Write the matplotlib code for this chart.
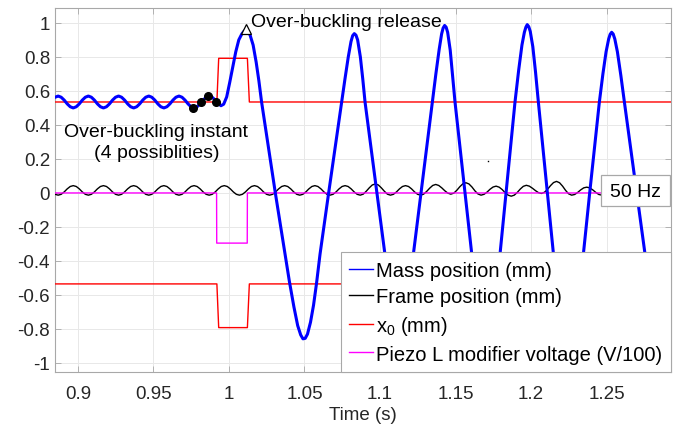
import numpy as np
import matplotlib
matplotlib.use('Agg')
import matplotlib.pyplot as plt
from matplotlib.lines import Line2D
from matplotlib.patches import Rectangle

plt.rcParams['font.family'] = ['Liberation Sans', 'DejaVu Sans']
plt.rcParams['mathtext.default'] = 'regular'
plt.rcParams['axes.unicode_minus'] = False

# ---------------- data ----------------
# uniform sampling grid used for the frame signal and the first part of the mass signal
t_start = 0.8849
t_step = 0.002

frame_pos = [
    -0.008, -0.013, -0.008, 0.006, 0.024, 0.038,
    0.043, 0.038, 0.024, 0.006, -0.008, -0.013, -0.008, 0.006, 0.024, 0.038,
    0.043, 0.038, 0.024, 0.006, -0.008, -0.013, -0.008, 0.006, 0.024, 0.038,
    0.043, 0.038, 0.024, 0.006, -0.008, -0.013, -0.008, 0.006, 0.024, 0.038,
    0.043, 0.038, 0.024, 0.006, -0.008, -0.013, -0.008, 0.006, 0.024, 0.038,
    0.043, 0.038, 0.024, 0.006, -0.008, -0.013, -0.008, 0.006, 0.024, 0.038,
    0.043, 0.038, 0.024, 0.006, -0.008, -0.013, -0.008, 0.006, 0.024, 0.038,
    0.043, 0.038, 0.024, 0.006, -0.008, -0.013, -0.008, 0.006, 0.024, 0.038,
    0.043, 0.038, 0.024, 0.006, -0.008, -0.013, -0.008, 0.006, 0.024, 0.038,
    0.043, 0.038, 0.024, 0.006, -0.008, -0.013, -0.008, 0.006, 0.024, 0.038,
    0.043, 0.038, 0.024, 0.006, -0.008, -0.013, -0.007, 0.010, 0.030, 0.047,
    0.053, 0.047, 0.030, 0.010, -0.007, -0.013, -0.008, 0.006, 0.024, 0.038,
    0.043, 0.038, 0.024, 0.006, -0.008, -0.013, -0.007, 0.009, 0.028, 0.044,
    0.050, 0.044, 0.030, 0.013, -0.001, -0.007, -0.001, 0.016, 0.037, 0.054,
    0.060, 0.053, 0.035, 0.012, -0.006, -0.013, -0.008, 0.005, 0.022, 0.035,
    0.040, 0.034, 0.020, 0.001, -0.013, -0.019, -0.013, 0.003, 0.023, 0.039,
    0.045, 0.040, 0.028, 0.014, 0.002, -0.003, 0.004, 0.021, 0.043, 0.061,
    0.068, 0.060, 0.040, 0.015, -0.005, -0.013, -0.009, 0.003, 0.018, 0.030,
    0.034, 0.030, 0.018, 0.003, -0.009, -0.013, -0.008, 0.006, 0.024, 0.038,
    0.043, 0.038, 0.024, 0.006, -0.008, -0.013, -0.008, 0.006, 0.024, 0.038,
    0.043, 0.038, 0.024, 0.006, -0.008, -0.013, -0.008, 0.006, 0.024,
]

mass_pos_pre = [
    0.563, 0.570, 0.563, 0.546, 0.524, 0.507,
    0.500, 0.507, 0.524, 0.546, 0.563, 0.570, 0.563, 0.546, 0.524, 0.507,
    0.500, 0.507, 0.524, 0.546, 0.563, 0.570, 0.563, 0.546, 0.524, 0.507,
    0.500, 0.507, 0.524, 0.546, 0.563, 0.570, 0.563, 0.546, 0.524, 0.507,
    0.500, 0.507, 0.524, 0.546, 0.563, 0.570, 0.563, 0.546, 0.524, 0.507,
    0.500, 0.507, 0.524, 0.546, 0.563, 0.570, 0.563, 0.546, 0.527,
]

mass_t_post = [
    0.9947, 0.9965, 0.9985, 1.0005, 1.0025, 1.0045, 1.0065, 1.0085, 1.0100, 1.0113,
    1.0126, 1.0140, 1.0160, 1.0180, 1.0198, 1.0216, 1.0307, 1.0371,
    1.0400, 1.0430, 1.0455, 1.0475, 1.0490, 1.0505, 1.0520, 1.0540, 1.0560, 1.0580, 1.0603,
    1.0660, 1.0746, 1.0768, 1.0790, 1.0808, 1.0819, 1.0830, 1.0841, 1.0852, 1.0870, 1.0886, 1.0901,
    1.0980, 1.1033, 1.1065, 1.1097, 1.1127, 1.1157, 1.1189, 1.1221, 1.12715, 1.13466,
    1.1370, 1.1392, 1.1408, 1.1418, 1.1428, 1.1438, 1.1448, 1.1465, 1.1482, 1.14967,
    1.15629, 1.16071,
    1.1640, 1.1671, 1.1701, 1.1731, 1.1763, 1.17947, 1.18344, 1.1894,
    1.1918, 1.1940, 1.1956, 1.1966, 1.1975, 1.1985, 1.1995, 1.2012, 1.2030, 1.20486,
    1.21082, 1.21479,
    1.2180, 1.2215, 1.2247, 1.2280, 1.2315, 1.23466, 1.23885, 1.24526,
    1.2476, 1.2497, 1.2514, 1.2524, 1.2534, 1.2544, 1.2555, 1.2572, 1.2595, 1.26182,
    1.26998, 1.2755,
    1.2790, 1.2825, 1.2855, 1.2885, 1.2915, 1.2940,
]
mass_pos_post = [
    0.513, 0.522, 0.565, 0.650, 0.740, 0.830, 0.900, 0.935, 0.952, 0.957,
    0.950, 0.928, 0.870, 0.770, 0.660, 0.535, 0.000, -0.360,
    -0.520, -0.670, -0.780, -0.835, -0.858, -0.855, -0.830, -0.760, -0.660, -0.530, -0.360,
    0.000, 0.535, 0.670, 0.800, 0.890, 0.925, 0.937, 0.928, 0.900, 0.800, 0.670, 0.535,
    0.000, -0.360, -0.580, -0.780, -0.860, -0.780, -0.580, -0.360, 0.000, 0.535,
    0.700, 0.845, 0.935, 0.970, 0.985, 0.975, 0.945, 0.840, 0.680, 0.535,
    0.000, -0.360,
    -0.620, -0.830, -0.920, -0.840, -0.630, -0.360, 0.000, 0.535,
    0.720, 0.870, 0.945, 0.975, 0.990, 0.978, 0.950, 0.860, 0.710, 0.535,
    0.000, -0.360,
    -0.640, -0.870, -0.940, -0.870, -0.640, -0.360, 0.000, 0.535,
    0.700, 0.830, 0.905, 0.933, 0.945, 0.935, 0.905, 0.830, 0.690, 0.535,
    0.000, -0.360,
    -0.620, -0.830, -0.900, -0.850, -0.740, -0.620,
]

x0_t = [0.8849, 0.9920, 0.9932, 1.0122, 1.0135, 1.2929]
x0_upper = [0.535, 0.535, 0.792, 0.792, 0.535, 0.535]
x0_lower = [-0.535, -0.535, -0.792, -0.792, -0.535, -0.535]

piezo_t = [0.8849, 0.9918, 0.9919, 1.0121, 1.0122, 1.2929]
piezo_v = [0.0, 0.0, -0.295, -0.295, 0.0, 0.0]

instant_t = [0.9764, 0.9812, 0.9862, 0.9917]
instant_v = [0.500, 0.535, 0.570, 0.535]
release_t = [1.0113]
release_v = [0.962]
stray_t = [1.1715]
stray_v = [0.188]

x_ticks = [0.9, 0.95, 1.0, 1.05, 1.1, 1.15, 1.2, 1.25]
x_tick_labels = ['0.9', '0.95', '1', '1.05', '1.1', '1.15', '1.2', '1.25']
y_ticks = [-1, -0.8, -0.6, -0.4, -0.2, 0, 0.2, 0.4, 0.6, 0.8, 1]
y_tick_labels = ['-1', '-0.8', '-0.6', '-0.4', '-0.2', '0', '0.2', '0.4', '0.6', '0.8', '1']

series_labels = ['Mass position (mm)', 'Frame position (mm)', 'x$_0$ (mm)',
                 'Piezo L modifier voltage (V/100)']

# ---------------- plot ----------------
BLUE, BLACK, RED, MAG = '#0000ff', '#000000', '#ff0000', '#ff00ff'
AX_GRAY = '#a8a8a8'
TXT = '#262626'

fig = plt.figure(figsize=(6.96, 4.27), dpi=100)
ax = fig.add_axes([0.0790, 0.1265, 0.8851, 0.8525])

grid_t = t_start + t_step * np.arange(len(frame_pos))
mass_t = np.concatenate([grid_t[:len(mass_pos_pre)], mass_t_post])
mass_v = np.concatenate([mass_pos_pre, mass_pos_post])

ax.plot(grid_t, frame_pos, color=BLACK, lw=1.0, zorder=3)
ax.plot(x0_t, x0_upper, color=RED, lw=1.0, zorder=3.1)
ax.plot(x0_t, x0_lower, color=RED, lw=1.0, zorder=3.1)
ax.plot(piezo_t, piezo_v, color=MAG, lw=1.0, zorder=3.2)
ax.plot(mass_t, mass_v, color=BLUE, lw=2.2, zorder=4, solid_joinstyle='round')

ax.plot(instant_t, instant_v, 'o', color='k', ms=5.5, zorder=4.5)
ax.plot(release_t, release_v, '^', mfc='white', mec='k', mew=0.9, ms=7, zorder=4.5)
ax.plot(stray_t, stray_v, 's', color='k', ms=1.0, mew=0, zorder=4.5)

ax.set_xlim(0.8848, 1.2927)
ax.set_ylim(-1.053, 1.088)
ax.set_xticks(x_ticks)
ax.set_xticklabels(x_tick_labels)
ax.set_yticks(y_ticks)
ax.set_yticklabels(y_tick_labels)
ax.grid(True, color='#e8e8e8', lw=0.7, zorder=0)
ax.set_axisbelow(True)
for s in ax.spines.values():
    s.set_color(AX_GRAY)
    s.set_linewidth(0.8)
ax.tick_params(direction='in', length=4.5, width=0.6, color=AX_GRAY,
               labelcolor=TXT, labelsize=13.5, top=True, right=True)
ax.tick_params(axis='x', pad=9.5)
ax.tick_params(axis='y', pad=3.5)
ax.set_xlabel('Time (s)', fontsize=13.5, color=TXT, labelpad=2.5)

# annotations
ax.text(1.0144, 0.984, 'Over-buckling release', fontsize=14, ha='left', va='baseline',
        color='k', zorder=6)
ax.text(0.9519, 0.337, 'Over-buckling instant', fontsize=14, ha='center', va='baseline',
        color='k', zorder=6)
ax.text(0.9519, 0.214, '(4 possiblities)', fontsize=14, ha='center', va='baseline',
        color='k', zorder=6)

ax.add_patch(Rectangle((0.8864, 0.456), 0.112, 0.0852, transform=ax.transAxes,
                       fc='white', ec=AX_GRAY, lw=0.9, zorder=6))
ax.text(0.9427, 0.4827, '50 Hz', transform=ax.transAxes, fontsize=14,
        ha='center', va='baseline', color='k', zorder=7)

handles = [Line2D([], [], color=c, lw=1.0) for c in (BLUE, BLACK, RED, MAG)]
leg = ax.legend(handles, series_labels, loc='lower right', bbox_to_anchor=(1, 0),
                borderaxespad=0, fontsize=14.5, frameon=True, fancybox=False,
                edgecolor=AX_GRAY, framealpha=1, handlelength=1.2,
                handletextpad=0.15, labelspacing=0.38, borderpad=0.42)
leg.get_frame().set_linewidth(0.8)
leg.set_zorder(8)

fig.savefig('out.png', dpi=100)
